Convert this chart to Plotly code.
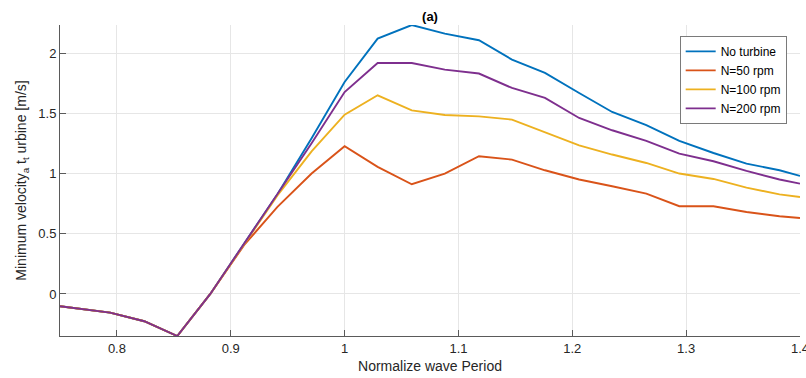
import plotly.graph_objects as go

# Normalized wave period (T / T0)
period = [0.75, 0.794, 0.824, 0.853, 0.882, 0.912, 0.941, 0.971, 1.0, 1.029,
          1.059, 1.088, 1.118, 1.147, 1.176, 1.206, 1.235, 1.265, 1.294,
          1.324, 1.353, 1.382, 1.4]

# Minimum velocity at the turbine location [m/s]
no_turbine = [-0.102, -0.155, -0.227, -0.35, 0.0, 0.42, 0.83, 1.295, 1.764, 2.125,
              2.238, 2.166, 2.111, 1.950, 1.839, 1.672, 1.514, 1.404, 1.273,
              1.173, 1.085, 1.029, 0.982]
n50 = [-0.102, -0.155, -0.227, -0.35, 0.0, 0.41, 0.724, 1.002, 1.229, 1.057,
       0.913, 1.002, 1.146, 1.118, 1.029, 0.952, 0.896, 0.835, 0.730,
       0.730, 0.682, 0.646, 0.632]
n100 = [-0.102, -0.155, -0.227, -0.35, 0.0, 0.42, 0.82, 1.187, 1.492, 1.653,
        1.528, 1.489, 1.478, 1.451, 1.348, 1.237, 1.160, 1.090, 1.002,
        0.957, 0.885, 0.829, 0.807]
n200 = [-0.102, -0.155, -0.227, -0.35, 0.0, 0.42, 0.83, 1.254, 1.680, 1.922,
        1.922, 1.867, 1.834, 1.714, 1.631, 1.464, 1.362, 1.273, 1.168,
        1.104, 1.024, 0.952, 0.918]

series_names = ["No turbine", "N=50 rpm", "N=100 rpm", "N=200 rpm"]
series_values = [no_turbine, n50, n100, n200]
colors = ["#0072BD", "#D95319", "#EDB120", "#7E2F8E"]

x_ticks = [0.8, 0.9, 1.0, 1.1, 1.2, 1.3, 1.4]
x_tick_labels = ["0.8", "0.9", "1", "1.1", "1.2", "1.3", "1.4"]
y_ticks = [0, 0.5, 1, 1.5, 2]
y_tick_labels = ["0", "0.5", "1", "1.5", "2"]

FONT = "Liberation Sans, Arial, Helvetica, sans-serif"
INK = "#262626"

fig = go.Figure()
for name, vals, col in zip(series_names, series_values, colors):
    fig.add_trace(go.Scatter(x=period, y=vals, mode="lines", name=name,
                             line=dict(color=col, width=1.9)))

all_vals = [v for s in series_values for v in s]
y_lo, y_hi = min(all_vals), max(all_vals)

axis_common = dict(
    showgrid=True, gridcolor="#e6e6e6", gridwidth=1,
    showline=True, linecolor="#5a5a5a", linewidth=1,
    ticks="inside", ticklen=6, tickcolor="#5a5a5a",
    tickfont=dict(family=FONT, size=13, color=INK),
    zeroline=False, mirror=False, automargin=False,
)

fig.update_layout(
    width=806, height=378,
    margin=dict(l=60, r=6, t=25, b=42),
    paper_bgcolor="white", plot_bgcolor="white",
    font=dict(family=FONT, color=INK),
    title=dict(text="<b>(a)</b>", x=(60 + 740 / 2) / 806, xanchor="center",
               y=1 - 16 / 378, yanchor="middle",
               font=dict(family=FONT, size=13, color="black")),
    xaxis=dict(range=[0.75, 1.4], tickvals=x_ticks, ticktext=x_tick_labels,
               ticklabeloverflow="allow",
               title=dict(text="Normalize wave Period", standoff=6,
                          font=dict(family=FONT, size=14, color=INK)),
               **axis_common),
    yaxis=dict(range=[y_lo, y_hi], tickvals=y_ticks, ticktext=y_tick_labels,
               title=dict(text="Minimum velocity<sub>a</sub> t<sub>t</sub> urbine [m/s]",
                          standoff=8,
                          font=dict(family=FONT, size=14, color=INK)),
               **axis_common),
    legend=dict(x=0.982, xanchor="right", y=0.965, yanchor="top",
                bgcolor="white", bordercolor="#7a7a7a", borderwidth=1,
                font=dict(family=FONT, size=12, color="black"),
                tracegroupgap=0, itemwidth=30),
    showlegend=True,
)

fig.write_html("out.html")
